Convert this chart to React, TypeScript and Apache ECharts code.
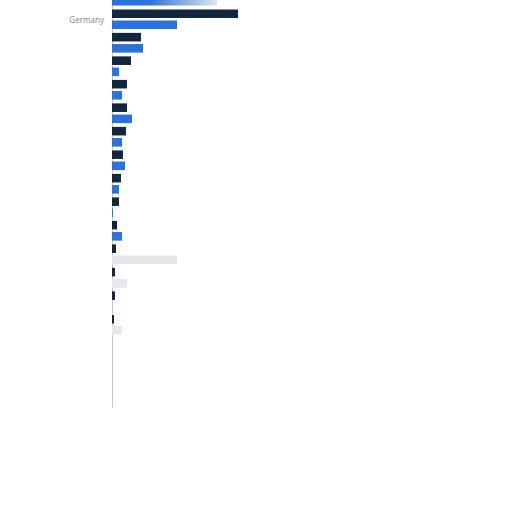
import React, { useEffect, useRef } from 'react'
import * as echarts from 'echarts'

// only "Germany" is legible in the reference; the other rows have no visible label
const countries = [
    'France', 'Germany', 'Italy', 'Spain', 'Netherlands', 'Poland', 'Belgium', 'Sweden', 'Austria',
    'Czechia', 'Portugal', 'Denmark', 'Finland', 'Greece', 'Ireland', 'Hungary', 'Romania', 'Slovakia',
]
const visibleLabels = ['Germany']

const seriesA = [110, 126, 29, 19, 15, 15, 14, 11, 9, 7, 5, 4, 3, 3, 2, 0, 0, 0]
const seriesB = [105, 65, 31, 7, 10, 20, 10, 13, 7, 1, 10, 65, 15, 0, 10, 0, 0, 0]
// rows where the second bar is drawn washed out
const fadedRows = [11, 12, 14]

const NAVY = '#132640'
const BLUE = '#2a72dc'

const App: React.FC = () => {
    const chartRef = useRef<HTMLDivElement | null>(null)

    useEffect(() => {
        if (!chartRef.current) return
        const chart = echarts.init(chartRef.current, null, { renderer: 'svg' })

        const blueData = seriesB.map((v, i) => {
            if (i === 0) {
                return {
                    value: v,
                    itemStyle: {
                        color: new echarts.graphic.LinearGradient(0, 0, 1, 0, [
                            { offset: 0, color: BLUE },
                            { offset: 0.35, color: BLUE },
                            { offset: 1, color: '#dfe4ea' },
                        ]),
                    },
                }
            }
            if (fadedRows.includes(i)) {
                return { value: v, itemStyle: { color: '#e4e7ec' } }
            }
            return v
        })

        chart.setOption({
            animation: false,
            grid: {
                left: 112,
                right: 0,
                top: 0,
                bottom: 105,
                containLabel: false,
            },
            xAxis: {
                type: 'value',
                min: 0,
                max: 400,
                show: false,
            },
            yAxis: {
                type: 'category',
                inverse: true,
                data: countries,
                axisLine: { show: true, lineStyle: { width: 1, color: '#c4c8cd' } },
                axisTick: { show: false },
                axisLabel: {
                    color: '#8c8c8c',
                    fontSize: 8,
                    fontFamily: 'Noto Sans',
                    margin: 8,
                    interval: 0,
                    formatter: (name: string) => (visibleLabels.includes(name) ? name : ''),
                },
            },
            series: [
                {
                    name: 'A',
                    type: 'bar',
                    data: seriesA,
                    barGap: '30%',
                    barCategoryGap: '16%',
                    itemStyle: { color: NAVY },
                },
                {
                    name: 'B',
                    type: 'bar',
                    data: blueData,
                    itemStyle: { color: BLUE },
                },
            ],
        })

        return () => {
            chart.dispose()
        }
    }, [])

    // the chart's first row sits partly above the visible page, as in the reference
    return (
        <div
            ref={chartRef}
            style={{ position: 'fixed', left: 0, top: '-16px', width: '512px', height: '528px', background: '#fff' }}
        />
    )
}

export default App
